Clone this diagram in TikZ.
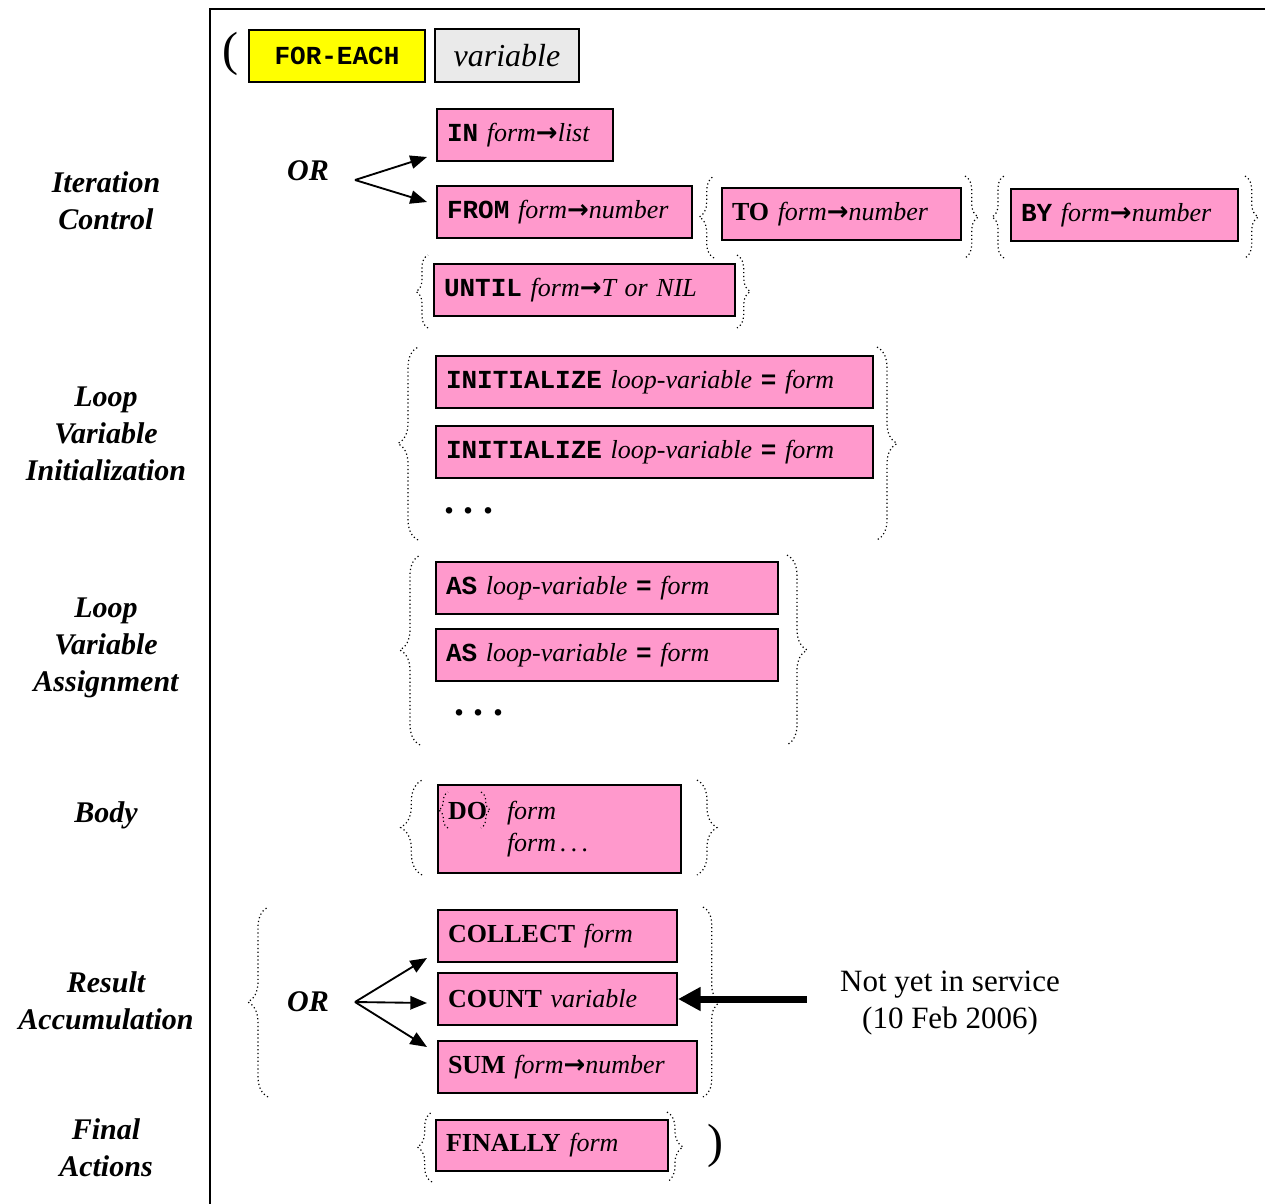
\documentclass[tikz,border=0pt]{standalone}
\usepackage{fontspec}
\setmainfont{Liberation Serif}
\setmonofont{Liberation Mono}
\newfontfamily\arrfont{DejaVu Sans}
\usetikzlibrary{arrows.meta,decorations.pathreplacing}
\definecolor{boxpink}{HTML}{FF99CC}
\definecolor{boxyellow}{HTML}{FFFF00}
\definecolor{boxgray}{HTML}{EAEAEA}
\newcommand{\kw}[1]{{\ttfamily\bfseries #1}}
\newcommand{\arr}{{\arrfont\bfseries →}}
\begin{document}
\begin{tikzpicture}[x=0.75pt,y=-0.75pt]
		\tikzstyle{pbox}=[draw=black,line width=1.5pt,fill=boxpink,anchor=north west,align=left,inner xsep=7.5pt,minimum height=39pt,font=\fontsize{19.5}{24}\selectfont]
		\tikzstyle{sect}=[align=center,font=\fontsize{22.5}{27.75}\selectfont\bfseries\itshape]
		\tikzstyle{opt}=[decorate,decoration={brace,amplitude=15pt},dotted,line width=0.9pt]
		\tikzstyle{orarrow}=[-{Triangle[length=12.5pt,width=10pt]},line width=1.4pt]
		\tikzstyle{bigarrow}=[-{Triangle[length=17pt,width=17pt]},line width=5.25pt]
		\useasboundingbox (0,0) rectangle (1265,1204);
		\draw[line width=2pt] (210,1204) -- (210,9) -- (1265,9);
		
		\node[sect] (iter) at (106,201) {Iteration\\Control};
		\node[sect] (init) at (106,434) {Loop\\Variable\\Initialization};
		\node[sect] (assign) at (106,648) {Loop\\Variable\\Assignment};
		\node[sect] (body) at (106,815) {Body};
		\node[sect] (result) at (106,1001) {Result\\Accumulation};
		\node[sect] (final) at (106,1148) {Final\\Actions};
		
		\node[font=\fontsize{36}{36}\selectfont] (lpar) at (230,54) {(};
		\node[pbox,fill=boxyellow,align=center,minimum width=132pt,text width=] (fe) at (248,29) {\kw{FOR-EACH}};
		\node[pbox,fill=boxgray,align=center,minimum width=108pt,minimum height=39.75pt,font=\fontsize{24}{28}\selectfont\itshape] (var) at (434,28) {variable};
		
		\node[sect] (or1) at (308,171) {OR};
		\coordinate (fork1) at (355,180);
		\node[pbox,text width=117pt] (in) at (436,108) {\kw{IN} \textit{form}\arr\textit{list}};
		\node[pbox,text width=176.25pt] (from) at (436,185) {\kw{FROM} \textit{form}\arr\textit{number}};
		\node[pbox,text width=164.25pt] (to) at (721,187) {\textbf{TO} \textit{form}\arr\textit{number}};
		\node[pbox,text width=155.25pt] (by) at (1010,188) {\kw{BY} \textit{form}\arr\textit{number}};
		\node[pbox,text width=210.75pt] (until) at (433,263) {\kw{UNTIL} \textit{form}\arr\textit{T or NIL}};
		\draw[orarrow] (fork1) -- ([shift={(-9,-5)}]in.south west);
		\draw[orarrow] (fork1) -- ([shift={(-9,17)}]from.north west);
		\draw[opt,decoration={amplitude=11pt}] (714,258) -- (714,176);
		\draw[opt,decoration={amplitude=10pt}] (965,176) -- (965,258);
		\draw[opt,decoration={amplitude=9pt}] (1004,258) -- (1004,176);
		\draw[opt,decoration={amplitude=10pt}] (1245,176) -- (1245,258);
		\draw[opt,decoration={amplitude=9pt}] (428,328) -- (428,255);
		\draw[opt,decoration={amplitude=10pt}] (737,255) -- (737,328);
		
		\node[pbox,text width=312.75pt] (init1) at (435,355) {\kw{INITIALIZE} \textit{loop-variable} \kw{=} \textit{form}};
		\node[pbox,text width=312.75pt] (init2) at (435,425) {\kw{INITIALIZE} \textit{loop-variable} \kw{=} \textit{form}};
		\node[font=\fontsize{30}{30}\selectfont\bfseries] (idots) at (469,511) {.\hspace{7pt}.\hspace{7pt}.};
		\draw[opt] (418,540) -- (418,347);
		\draw[opt] (877,347) -- (877,540);
		
		\node[pbox,text width=241.5pt] (as1) at (435,561) {\kw{AS} \textit{loop-variable} \kw{=} \textit{form}};
		\node[pbox,text width=241.5pt] (as2) at (435,628) {\kw{AS} \textit{loop-variable} \kw{=} \textit{form}};
		\node[font=\fontsize{30}{30}\selectfont\bfseries] (adots) at (479,713) {.\hspace{7pt}.\hspace{7pt}.};
		\draw[opt] (420,745) -- (420,555);
		\draw[opt] (787,555) -- (787,745);
		
		\node[pbox,text width=167.25pt,minimum height=66pt] (do) at (437,784) {\textbf{DO}\hspace{15pt}\textit{form}\\\phantom{\textbf{DO}}\hspace{15pt}\textit{form\,.\,.\,.}};
		\draw[opt,decoration={amplitude=7pt}] ([shift={(11,44)}]do.north west) -- ([shift={(11,8)}]do.north west);
		\draw[opt,decoration={amplitude=7pt}] ([shift={(44,8)}]do.north west) -- ([shift={(44,44)}]do.north west);
		\draw[opt,decoration={amplitude=16pt}] (422,875) -- (422,780);
		\draw[opt] (697,780) -- (697,875);
		
		\node[sect] (or2) at (308,1002) {OR};
		\coordinate (fork2) at (355,1002);
		\node[pbox,text width=164.25pt] (collect) at (437,909) {\textbf{COLLECT} \textit{form}};
		\node[pbox,text width=164.25pt] (count) at (437,972) {\textbf{COUNT} \textit{variable}};
		\node[pbox,text width=179.25pt] (sum) at (437,1040) {\textbf{SUM} \textit{form}\arr\textit{number}};
		\draw[orarrow] (fork2) -- ([shift={(-10,-5)}]collect.south west);
		\draw[orarrow] (fork2) -- ([shift={(-10,4)}]count.west);
		\draw[orarrow] (fork2) -- ([shift={(-10,7)}]sum.north west);
		\draw[opt] (268,1097) -- (268,907);
		\draw[opt,decoration={amplitude=13pt}] (703,907) -- (703,1097);
		\node[align=center,inner sep=0pt,font=\fontsize{23.25}{27.75}\selectfont] (note) at (950,1003) {Not yet in service\\(10 Feb 2006)};
		\draw[bigarrow,shorten <=24.75pt] (count.east -| note.west) -- (count.east);
		
		\node[pbox,text width=159pt,minimum height=38.25pt] (finally) at (435,1119) {\textbf{FINALLY} \textit{form}};
		\draw[opt,decoration={amplitude=11pt}] (432,1182) -- (432,1112);
		\draw[opt,decoration={amplitude=12pt}] (667,1112) -- (667,1182);
		\node[font=\fontsize{36}{36}\selectfont] (rpar) at (715,1146) {)};
	\end{tikzpicture}
\end{document}
